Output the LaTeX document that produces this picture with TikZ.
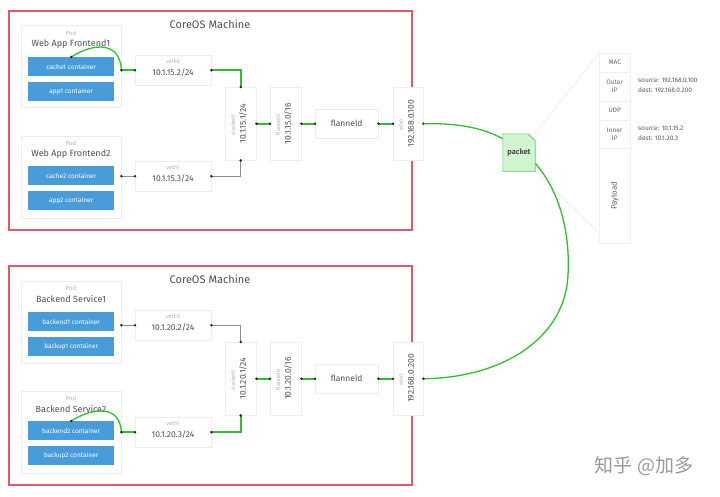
\documentclass[tikz,border=0pt]{standalone}
\usepackage{fontspec}
\setmainfont{Fira Sans}
\newfontfamily\cjk{Noto Sans CJK SC}
\usetikzlibrary{shadows}
\definecolor{redbox}{RGB}{225,88,108}
\definecolor{cblue}{RGB}{72,156,218}
\definecolor{glinec}{RGB}{48,190,48}
\definecolor{pktfill}{RGB}{208,245,208}
\definecolor{txt}{RGB}{80,80,80}
\tikzset{
 machine/.style={draw=redbox, line width=1.8pt, minimum width=403pt, minimum height=219pt, anchor=north west, inner sep=0pt},
 card/.style={draw=black!7, fill=white, inner sep=0pt, anchor=north west, drop shadow={opacity=0.22, shadow xshift=0.5pt, shadow yshift=-1pt}},
 podbox/.style={card, minimum width=100pt, minimum height=82pt},
 vethbox/.style={card, minimum width=76pt, minimum height=30pt},
 vbox/.style={card, minimum width=31pt, minimum height=73pt},
 fbox/.style={card, minimum width=63pt, minimum height=29pt, text=txt, font=\fontsize{8.5}{9}\selectfont},
 container/.style={fill=cblue, text=white, font=\fontsize{6.5}{7}\selectfont, minimum width=86pt, minimum height=19pt, inner sep=0pt, anchor=north west},
 title/.style={text=txt, font=\fontsize{11}{12}\selectfont, inner sep=0pt},
 podlbl/.style={text=black!30, font=\fontsize{6}{6}\selectfont, inner sep=0pt},
 podname/.style={text=txt, font=\fontsize{9}{10}\selectfont, inner sep=0pt},
 small/.style={text=black!30, font=\fontsize{5.5}{6}\selectfont, inner sep=0pt},
 ip/.style={text=txt, font=\fontsize{8.5}{9}\selectfont, inner sep=0pt},
 gline/.style={draw=glinec, line width=1.6pt},
 gcurve/.style={draw=glinec, line width=1.3pt},
 kline/.style={draw=black!45, line width=0.6pt},
 dot/.style={fill=black!85},
 rowbox/.style={draw=black!6, inner sep=0pt, anchor=north west, minimum width=31pt, text=black!60, font=\fontsize{6.5}{8}\selectfont, align=center},
 src/.style={text=black!65, font=\fontsize{6.5}{10}\selectfont, align=left, inner sep=0pt, anchor=west},
 faint/.style={draw=black!10, line width=0.4pt},
}
\begin{document}
\begin{tikzpicture}[x=1pt,y=-1pt]
\useasboundingbox (0,0) rectangle (720,496);
\fill[white] (0,0) rectangle (720,496);

% ================= top machine =================
\node[machine] (m1) at (8,10) {};
\node[title] (m1t) at (210,24) {CoreOS Machine};
\node[podbox] (p1) at (21,25) {};
\node[podlbl] (p1l) at (71,33) {Pod};
\node[podname] (p1n) at (71,44) {Web App Frontend1};
\node[container] (c1) at (28,57) {cache1 container};
\node[container] (a1) at (28,82) {app1 container};
\node[podbox] (p2) at (21,136) {};
\node[podlbl] (p2l) at (71,143) {Pod};
\node[podname] (p2n) at (71,154) {Web App Frontend2};
\node[container] (c2) at (28,166) {cache2 container};
\node[container] (a2) at (28,191) {app2 container};
\node[vethbox] (v0) at (135,55) {};
\node[small] (v0l) at (173,61) {veth0};
\node[ip] (v0i) at (173,73) {10.1.15.2/24};
\node[vethbox] (v1) at (135,161) {};
\node[small] (v1l) at (173,167) {veth1};
\node[ip] (v1i) at (173,179) {10.1.15.3/24};
\node[vbox] (d0) at (225,87) {};
\node[small, rotate=90] (d0l) at (233,125) {docker0};
\node[ip, rotate=90] (d0i) at (243,123.5) {10.1.15.1/24};
\node[vbox] (f0) at (270,87) {};
\node[small, rotate=90] (f0l) at (278,125) {flannel0};
\node[ip, rotate=90] (f0i) at (288,123.5) {10.1.15.0/16};
\node[fbox] (fd) at (315,109) {flanneld};
\node[vbox, minimum width=30pt] (e0) at (393,87) {};
\node[small, rotate=90] (e0l) at (401,125) {eth0};
\node[ip, rotate=90] (e0i) at (411,123.5) {192.168.0.100};

\coordinate (p1o) at (p1.east |- v0.west);
\coordinate (p2o) at (p2.east |- v1.west);
\draw[gcurve] (c1.north) .. controls (95,42) and (120,42) .. (p1o);
\draw[gline] (p1o) -- (v0.west);
\draw[gline] (v0.east) -| (d0.north);
\draw[kline] (p2o) -- (v1.west);
\draw[kline] (v1.east) -| (d0.south);
\draw[gline] (d0.east) -- (f0.west);
\draw[gline] (f0.east) -- (fd.west);
\draw[gline] (fd.east) -- (e0.west);
\foreach \p in {c1.north,p1o,v0.west,v0.east,d0.north,p2o,v1.west,v1.east,d0.south,d0.east,f0.west,f0.east,fd.west,fd.east,e0.west,e0.east}
  \fill[dot] (\p) circle (1.4pt);

% ================= bottom machine =================
\node[machine] (m2) at (8,265) {};
\node[title] (m2t) at (210,279) {CoreOS Machine};
\node[podbox] (p3) at (21,281) {};
\node[podlbl] (p3l) at (71,288) {Pod};
\node[podname] (p3n) at (71,299) {Backend Service1};
\node[container] (c3) at (28,312) {backend1 container};
\node[container] (a3) at (28,337) {backup1 container};
\node[podbox] (p4) at (21,391) {};
\node[podlbl] (p4l) at (71,398) {Pod};
\node[podname] (p4n) at (71,409) {Backend Service2};
\node[container] (c4) at (28,421) {backend2 container};
\node[container] (a4) at (28,446) {backup2 container};
\node[vethbox] (v2) at (135,310) {};
\node[small] (v2l) at (173,316) {veth0};
\node[ip] (v2i) at (173,328) {10.1.20.2/24};
\node[vethbox] (v3) at (135,417) {};
\node[small] (v3l) at (173,423) {veth1};
\node[ip] (v3i) at (173,435) {10.1.20.3/24};
\node[vbox] (d1) at (225,342) {};
\node[small, rotate=90] (d1l) at (233,380) {docker0};
\node[ip, rotate=90] (d1i) at (243,378.5) {10.1.20.1/24};
\node[vbox] (f1) at (270,342) {};
\node[small, rotate=90] (f1l) at (278,380) {flannel0};
\node[ip, rotate=90] (f1i) at (288,378.5) {10.1.20.0/16};
\node[fbox] (fd2) at (315,364) {flanneld};
\node[vbox, minimum width=30pt] (e1) at (393,342) {};
\node[small, rotate=90] (e1l) at (401,380) {eth0};
\node[ip, rotate=90] (e1i) at (411,378.5) {192.168.0.200};

\coordinate (p3o) at (p3.east |- v2.west);
\coordinate (p4o) at (p4.east |- v3.west);
\draw[kline] (p3o) -- (v2.west);
\draw[kline] (v2.east) -| (d1.north);
\draw[gcurve] (c4.north) .. controls (95,406) and (120,406) .. (p4o);
\draw[gline] (p4o) -- (v3.west);
\draw[gline] (v3.east) -| (d1.south);
\draw[gline] (d1.east) -- (f1.west);
\draw[gline] (f1.east) -- (fd2.west);
\draw[gline] (fd2.east) -- (e1.west);

% ================= packet =================
\node[inner sep=0pt, minimum width=32pt, minimum height=37pt] (pkt) at (519,152.5) {};
\draw[faint] (pkt.north east) -- (599,53);
\draw[faint] (pkt.south east) -- (599,233);
\draw[gcurve] (e0.east) .. controls (462,123) and (485,129) .. ([yshift=-5pt]pkt.north west);
\draw[gcurve] ([yshift=8pt]pkt.south east) .. controls (563,195) and (570,240) .. (568,275)
   .. controls (565,340) and (500,378) .. (e1.east);
\filldraw[fill=pktfill, draw=glinec!80, line width=0.6pt] (pkt.north west) -- ([xshift=-7pt]pkt.north east) -- ([yshift=-7pt]pkt.north east) -- (pkt.south east) -- (pkt.south west) -- cycle;
\node[text=black!70, font=\fontsize{7.5}{8}\selectfont\bfseries, inner sep=0pt] (pktt) at (pkt.center) {packet};
\foreach \p in {d1.north,p3o,v2.west,v2.east,c4.north,p4o,v3.west,v3.east,d1.south,d1.east,f1.west,f1.east,fd2.west,fd2.east,e1.west,e1.east}
  \fill[dot] (\p) circle (1.4pt);

% ================= table =================
\node[card, minimum width=31pt, minimum height=190pt] (tbl) at (599,53) {};
\node[rowbox, minimum height=19pt] (mac) at (599,53) {MAC};
\node[rowbox, minimum height=29pt] (oip) at (599,72) {Outer\\IP};
\node[rowbox, minimum height=19pt] (udp) at (599,101) {UDP};
\node[rowbox, minimum height=28pt] (iip) at (599,120) {Inner\\IP};
\node[rowbox, minimum height=95pt] (pay) at (599,148) {};
\node[text=black!60, font=\fontsize{8}{9}\selectfont, rotate=90, inner sep=0pt] (payt) at (pay.center) {Payload};
\node[src] (s1) at (638,85) {source: 192.168.0.100\\dest: 192.168.0.200};
\node[src] (s2) at (638,133) {source: 10.1.15.2\\dest: 10.1.20.3};

% watermark
\node[font=\cjk\fontsize{19}{20}\selectfont, text=black!40, inner sep=0pt] (wm) at (644,466) {知乎 @加多};
\end{tikzpicture}
\end{document}
